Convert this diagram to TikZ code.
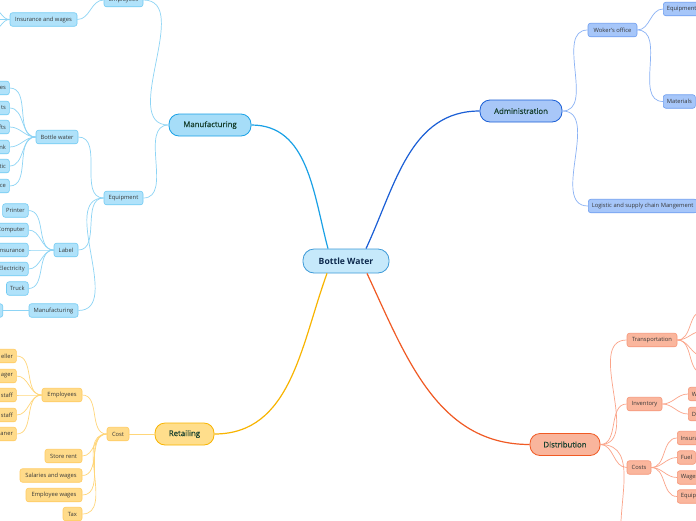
\documentclass[tikz,border=0pt]{standalone}
\usepackage{fontspec}
\setmainfont{Open Sans}
\newfontfamily\mainsemi[FakeBold=0.6]{Open Sans}
\definecolor{cfill}{HTML}{C6E9FB}
\definecolor{cline}{HTML}{3D9AD8}
\definecolor{ctext}{HTML}{0E2A4E}
\definecolor{mtext}{HTML}{17402F}
\definecolor{bmain}{HTML}{1AA1E6}
\definecolor{bmfill}{HTML}{A6DDF8}
\definecolor{bsfill}{HTML}{B0E2FA}
\definecolor{bsline}{HTML}{72CBF3}
\definecolor{bsedge}{HTML}{8DD4F5}
\definecolor{amain}{HTML}{1B5FD6}
\definecolor{amfill}{HTML}{A8C7F8}
\definecolor{asfill}{HTML}{A6C6F9}
\definecolor{asline}{HTML}{6E9EF0}
\definecolor{asedge}{HTML}{8AB2F5}
\definecolor{ymain}{HTML}{F8B400}
\definecolor{ymfill}{HTML}{FFDE8C}
\definecolor{ysfill}{HTML}{FFDB8A}
\definecolor{ysline}{HTML}{FFCB60}
\definecolor{ysedge}{HTML}{FFD679}
\definecolor{dmain}{HTML}{F05A24}
\definecolor{dmfill}{HTML}{F9B59C}
\definecolor{dsfill}{HTML}{FAB69D}
\definecolor{dsline}{HTML}{F6977A}
\definecolor{dsedge}{HTML}{FBA489}
\tikzset{
  central/.style={draw=cline, fill=cfill, line width=0.8pt, rounded corners=11pt,
    minimum width=86pt, minimum height=24pt, inner sep=0pt, text=ctext,
    font=\fontsize{8.6}{10}\selectfont\bfseries},
  mainnode/.style={line width=0.8pt, rounded corners=10pt, minimum height=22pt,
    inner sep=0pt, text=mtext, font=\mainsemi\fontsize{7.8}{9}\selectfont},
  sub/.style={line width=0.6pt, rounded corners=2.5pt, minimum height=13.5pt,
    inner xsep=3.5pt, inner ysep=0pt, text=black!78, font=\fontsize{5.8}{7}\selectfont},
  bm/.style={mainnode, draw=bmain, fill=bmfill},
  am/.style={mainnode, draw=amain, fill=amfill},
  ym/.style={mainnode, draw=ymain, fill=ymfill},
  dm/.style={mainnode, draw=dmain, fill=dmfill},
  bs/.style={sub, draw=bsline, fill=bsfill},
  as/.style={sub, draw=asline, fill=asfill},
  ys/.style={sub, draw=ysline, fill=ysfill},
  ds/.style={sub, draw=dsline, fill=dsfill},
  lcut/.style={text width=30pt, align=right, anchor=east},
  rcut/.style={text width=30pt, align=left, anchor=west},
  bme/.style={draw=bmain, line width=1.2pt},
  ame/.style={draw=amain, line width=1.2pt},
  yme/.style={draw=ymain, line width=1.2pt},
  dme/.style={draw=dmain, line width=1.2pt},
  bse/.style={draw=bsedge, line width=0.7pt},
  ase/.style={draw=asedge, line width=0.7pt},
  yse/.style={draw=ysedge, line width=0.7pt},
  dse/.style={draw=dsedge, line width=0.7pt},
}
\begin{document}
\begin{tikzpicture}[x=1pt,y=-1pt]
\useasboundingbox (0,0) rectangle (696,520);
\clip (0,0) rectangle (696,520);
\fill[white] (0,0) rectangle (696,520);

% ---------- central and main branches
\node[central] (c) at (346,261) {Bottle Water};
\node[bm, minimum width=82pt] (man) at (210,125) {Manufacturing};
\node[am, minimum width=82pt] (adm) at (521,111) {Administration};
\node[ym, minimum width=59pt] (ret) at (184.5,434) {Retailing};
\node[dm, minimum width=70pt] (dis) at (565,444.5) {Distribution};

\draw[bme] (man.east) to[out=0,in=105] ([xshift=-18pt]c.north);
\draw[ame] ([xshift=20pt]c.north) to[out=65,in=180] (adm.west);
\draw[yme] ([xshift=-19pt]c.south) to[out=-110,in=0] (ret.east);
\draw[dme] ([xshift=21pt]c.south) to[out=-65,in=180] (dis.west);

% ---------- Manufacturing subtree
\node[bs, minimum width=39pt] (memp) at (123.5,0) {Employees};
\node[bs, minimum width=67pt] (ins) at (43.5,19.5) {Insurance and wages};
\node[bs, minimum width=39pt] (meq) at (123.5,198) {Equipment};
\node[bs, minimum width=42pt] (bw) at (57,137) {Bottle water};
\node[bs, minimum width=24pt] (lab) at (66,250) {Label};
\node[bs, minimum width=49pt] (mf2) at (53.5,310.5) {Manufacturing};
\node[bs, minimum width=30pt, anchor=east] (mf2c) at (3,310.5) {};

\coordinate (insa) at (-8,8);
\coordinate (insb) at (-8,19.5);
\coordinate (insc) at (-8,31);

\node[bs, lcut] (bw1) at (9.7,88) {es};
\node[bs, lcut] (bw2) at (9.7,108) {ts};
\node[bs, lcut] (bw3) at (9.7,127) {fts};
\node[bs, lcut] (bw4) at (9.7,147) {nk};
\node[bs, lcut] (bw5) at (9.7,166) {tic};
\node[bs, lcut] (bw6) at (9.7,186) {ce};

\node[bs, anchor=east] (lb1) at (28.5,210.5) {Printer};
\node[bs, anchor=east] (lb2) at (28.5,230) {Computer};
\node[bs, anchor=east] (lb3) at (28.5,250) {Insurance};
\node[bs, anchor=east] (lb4) at (28.5,269) {Electricity};
\node[bs, anchor=east] (lb5) at (28.5,288.5) {Truck};

\draw[bse] (memp.east) to[out=0,in=180] (man.west);
\draw[bse] (meq.east) to[out=0,in=180] (man.west);
\draw[bse] (ins.east) to[out=0,in=180] (memp.west);
\foreach \k in {insa,insb,insc} \draw[bse] (\k) to[out=0,in=180] (ins.west);
\draw[bse] (bw.east) to[out=0,in=180] (meq.west);
\draw[bse] (lab.east) to[out=0,in=180] (meq.west);
\draw[bse] (mf2.east) to[out=0,in=180] (meq.west);
\draw[bse] (mf2c.east) -- (mf2.west);
\foreach \k in {bw1,bw2,bw3,bw4,bw5,bw6} \draw[bse] (\k.east) to[out=0,in=180] (bw.west);
\foreach \k in {lb1,lb2,lb3,lb4,lb5} \draw[bse] (\k.east) to[out=0,in=180] (lab.west);

% ---------- Retailing subtree
\node[ys, minimum width=22pt] (cost) at (118,434) {Cost};
\node[ys, minimum width=40pt] (yemp) at (62,395) {Employees};
\node[ys, minimum width=37pt] (store) at (63.5,456) {Store rent};
\node[ys, minimum width=62pt] (sal) at (51,475.5) {Salaries and wages};
\node[ys, minimum width=56pt] (ew) at (54,495) {Employee wages};
\node[ys, minimum width=19pt] (tax) at (72.5,514) {Tax};

\node[ys, lcut] (ye1) at (16.7,356) {eller};
\node[ys, lcut] (ye2) at (16.7,376) {ager};
\node[ys, lcut] (ye3) at (16.7,395) {staff};
\node[ys, lcut] (ye4) at (16.7,415) {staff};
\node[ys, lcut] (ye5) at (16.7,434) {aner};

\draw[yse] (cost.east) -- (ret.west);
\foreach \k in {yemp,store,sal,ew,tax} \draw[yse] (\k.east) to[out=0,in=180] (cost.west);
\foreach \k in {ye1,ye2,ye3,ye4,ye5} \draw[yse] (\k.east) to[out=0,in=180] (yemp.west);

% ---------- Administration subtree
\node[as, minimum width=49pt] (wo) at (612.5,30) {Woker's office};
\node[as, anchor=west] (aeq) at (663,9) {Equipment};
\node[as, anchor=west] (amat) at (663,101.5) {Materials};
\node[as, anchor=west] (log) at (588,206) {Logistic and supply chain Mangement};

\draw[ase] (adm.east) to[out=0,in=180] (wo.west);
\draw[ase] (adm.east) to[out=0,in=180] (log.west);
\draw[ase] (wo.east) to[out=0,in=180] (aeq.west);
\draw[ase] (wo.east) to[out=0,in=180] (amat.west);

% ---------- Distribution subtree
\node[ds, minimum width=50pt] (tr) at (652,340) {Transportation};
\node[ds, minimum width=35pt] (inv) at (644.5,404) {Inventory};
\node[ds, minimum width=24pt] (dco) at (639,467.5) {Costs};
\coordinate (dlow) at (622,548);

\node[ds, rcut] (iv1) at (688,394) {W};
\node[ds, rcut] (iv2) at (688,414) {D};

\node[ds, anchor=west] (dc1) at (677,438) {Insurance};
\node[ds, anchor=west] (dc2) at (677,457.5) {Fuel};
\node[ds, anchor=west] (dc3) at (677,477.5) {Wages};
\node[ds, anchor=west] (dc4) at (677,496.5) {Equipment};

\coordinate (tr1) at (703,311);
\coordinate (tr2) at (703,331);
\coordinate (tr3) at (703,356);
\coordinate (tr4) at (703,373);

\foreach \k in {tr,inv,dco} \draw[dse] (dis.east) to[out=0,in=180] (\k.west);
\draw[dse] (dis.east) to[out=0,in=100] (dlow);
\foreach \k in {tr1,tr2,tr3,tr4} \draw[dse] (tr.east) to[out=0,in=180] (\k);
\foreach \k in {iv1,iv2} \draw[dse] (inv.east) to[out=0,in=180] (\k.west);
\foreach \k in {dc1,dc2,dc3,dc4} \draw[dse] (dco.east) to[out=0,in=180] (\k.west);
\end{tikzpicture}
\end{document}
